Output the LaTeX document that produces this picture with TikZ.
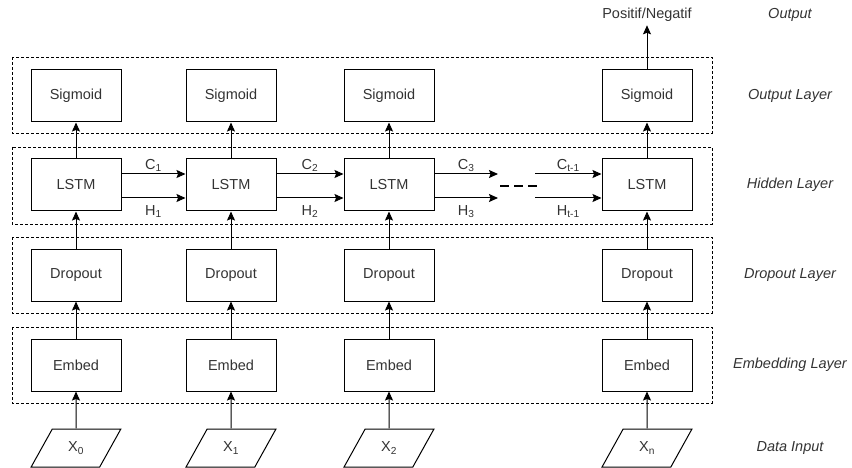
\documentclass[tikz,border=0pt]{standalone}
\usepackage{fontspec}
\setmainfont{Liberation Sans}
\usepackage{xcolor}
\usepackage{tikz}
\usetikzlibrary{arrows.meta,shapes.geometric}
\definecolor{GrisTexto}{RGB}{51,51,51}

\tikzset{
  caja/.style={draw,line width=1pt,minimum width=90pt,minimum height=52pt,inner sep=0pt,text=GrisTexto},
  entrada/.style={draw,trapezium,trapezium left angle=60,trapezium right angle=120,
    trapezium stretches=true,line width=1pt,minimum width=90pt,minimum height=38pt,inner sep=0pt,text=GrisTexto},
  capa/.style={draw,line width=0.8pt,dash pattern=on 3pt off 2pt},
  etiqueta/.style={font=\fontsize{14.5}{17}\selectfont\itshape,text=GrisTexto},
  flecha/.style={->,line width=1pt},
  estado/.style={text=GrisTexto,inner sep=2pt}
}

\begin{document}
\begin{tikzpicture}[x=1pt,y=-1pt,>={Stealth[length=9pt,width=8pt,inset=1.5pt]},font=\fontsize{14.5}{17}\selectfont]
  \useasboundingbox (0,0) rectangle (852,468);
  % capas punteadas
  \draw[capa] (12,57) rectangle (712,133);
  \draw[capa] (12,147) rectangle (712,224);
  \draw[capa] (12,237) rectangle (712,313);
  \draw[capa] (12,327) rectangle (712,403);
  % columnas
  \foreach \i/\x/\s in {1/76/0,2/231/1,3/389/2,4/647/n}{
    \node[caja] (sig\i) at (\x,96) {Sigmoid};
    \node[caja] (lstm\i) at (\x,185) {LSTM};
    \node[caja] (drop\i) at (\x,275) {Dropout};
    \node[caja] (emb\i) at (\x,365) {Embed};
    \node[entrada] (x\i) at (\x,448) {X\textsubscript{\s}};
    \draw[flecha] (x\i) -- (emb\i);
    \draw[flecha] (emb\i) -- (drop\i);
    \draw[flecha] (drop\i) -- (lstm\i);
    \draw[flecha] (lstm\i) -- (sig\i);
  }
  \node[text=GrisTexto] (salida) at (647,15) {Positif/Negatif};
  \draw[flecha] (sig4) -- (salida);
  % estados entre celdas
  \draw[flecha] ([yshift=11pt]lstm1.east) -- node[estado,above] {C\textsubscript{1}} ([yshift=11pt]lstm2.west);
  \draw[flecha] ([yshift=-13pt]lstm1.east) -- node[estado,below=5pt] {H\textsubscript{1}} ([yshift=-13pt]lstm2.west);
  \draw[flecha] ([yshift=11pt]lstm2.east) -- node[estado,above] {C\textsubscript{2}} ([yshift=11pt]lstm3.west);
  \draw[flecha] ([yshift=-13pt]lstm2.east) -- node[estado,below=5pt] {H\textsubscript{2}} ([yshift=-13pt]lstm3.west);
  \coordinate (cfin) at (498,174);
  \coordinate (hfin) at (498,198);
  \coordinate (cini) at (535,174);
  \coordinate (hini) at (535,198);
  \draw[flecha] ([yshift=11pt]lstm3.east) -- node[estado,above] {C\textsubscript{3}} (cfin);
  \draw[flecha] ([yshift=-13pt]lstm3.east) -- node[estado,below=5pt] {H\textsubscript{3}} (hfin);
  \draw[line width=2.5pt,dash pattern=on 9pt off 5pt] (500,186) -- (537,186);
  \draw[flecha] (cini) -- node[estado,above] {C\textsubscript{t-1}} ([yshift=11pt]lstm4.west);
  \draw[flecha] (hini) -- node[estado,below=5pt] {H\textsubscript{t-1}} ([yshift=-13pt]lstm4.west);
  % nombres de capas
  \node[etiqueta] (eOut) at (790,15) {Output};
  \node[etiqueta] (eSal) at (790,96) {Output Layer};
  \node[etiqueta] (eOcu) at (790,185) {Hidden Layer};
  \node[etiqueta] (eDro) at (790,275) {Dropout Layer};
  \node[etiqueta] (eEmb) at (790,365) {Embedding Layer};
  \node[etiqueta] (eDat) at (790,448) {Data Input};
\end{tikzpicture}
\end{document}
